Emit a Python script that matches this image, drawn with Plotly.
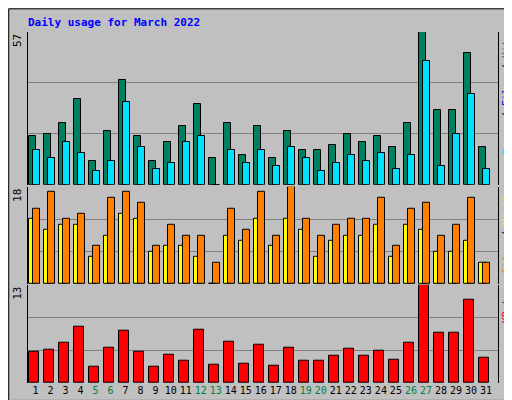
import plotly.graph_objects as go

days = list(range(1, 32))
weekend_days = [5, 6, 12, 13, 19, 20, 26, 27]

hits = [18, 19, 23, 32, 9, 20, 39, 18, 9, 16, 22, 30, 10, 23, 11, 22,
        10, 20, 13, 13, 15, 19, 16, 18, 14, 23, 57, 28, 28, 49, 14]
pages = [13, 10, 16, 12, 5, 9, 31, 14, 6, 8, 16, 18, 0, 13, 8, 13,
         7, 14, 10, 5, 8, 11, 9, 12, 6, 11, 46, 7, 19, 34, 6]
visits = [12, 10, 11, 11, 5, 9, 13, 12, 6, 7, 7, 5, 0, 9, 8, 12,
          7, 12, 10, 5, 8, 9, 9, 11, 5, 11, 10, 6, 6, 8, 4]
sites = [14, 17, 12, 13, 7, 16, 17, 15, 7, 11, 9, 9, 4, 14, 10, 17,
         9, 18, 12, 9, 11, 12, 12, 16, 7, 14, 15, 9, 11, 16, 4]
kbytes = [4.1, 4.4, 5.3, 7.4, 2.1, 4.7, 6.9, 4.1, 2.1, 3.7, 2.9, 7.0, 2.4, 5.4, 2.6, 5.1,
          2.3, 4.7, 3.0, 3.0, 3.6, 4.6, 3.6, 4.3, 3.1, 5.3, 13, 6.6, 6.6, 11.0, 3.3]

FONT = "DejaVu Sans Mono"
line = dict(color="black", width=1)

fig = go.Figure()
fig.add_trace(go.Bar(x=days, y=hits, marker=dict(color="#008060", line=line),
                     width=0.48, offset=-0.45, yaxis="y"))
fig.add_trace(go.Bar(x=days, y=pages, marker=dict(color="#00E0FF", line=line),
                     width=0.48, offset=-0.2, yaxis="y"))
fig.add_trace(go.Bar(x=days, y=visits, marker=dict(color="#FFFF00", line=line),
                     width=0.48, offset=-0.45, yaxis="y2"))
fig.add_trace(go.Bar(x=days, y=sites, marker=dict(color="#FF8000", line=line),
                     width=0.48, offset=-0.2, yaxis="y2"))
fig.add_trace(go.Bar(x=days, y=kbytes, marker=dict(color="#FF0000", line=line),
                     width=0.68, offset=-0.45, yaxis="y3"))

ticktext = [f'<span style="color:#008040">{d}</span>' if d in weekend_days else str(d)
            for d in days]

yax = dict(showticklabels=False, showgrid=True, gridcolor="#808080", gridwidth=1,
           zeroline=False, showline=True, linecolor="black", linewidth=1, mirror=True,
           ticks="")

fig.update_layout(
    width=512, height=400,
    margin=dict(l=20, r=22, t=24, b=22),
    paper_bgcolor="#C0C0C0", plot_bgcolor="#C0C0C0",
    showlegend=False, barmode="overlay", bargap=0,
    font=dict(family=FONT, size=10, color="black"),
    xaxis=dict(range=[0.5, 31.8], tickvals=days, ticktext=ticktext, showgrid=False,
               zeroline=False, ticks="", anchor="y3", tickfont=dict(size=10)),
    yaxis=dict(domain=[0.565, 1], range=[0, 57], dtick=19, **yax),
    yaxis2=dict(domain=[0.282, 0.559], range=[0, 18], dtick=6, **yax),
    yaxis3=dict(domain=[0, 0.28], range=[0, 13], dtick=13 / 3, **yax),
)

fig.add_annotation(text="<b>Daily usage for March 2022</b>", xref="paper", yref="paper",
                   x=-0.004, y=1.027, xanchor="left", yanchor="middle", showarrow=False,
                   font=dict(color="#0000FF", size=11, family=FONT))

for label, ytop in [("57", 1.0), ("18", 0.559), ("13", 0.28)]:
    fig.add_annotation(text=label, xref="paper", yref="paper", x=-0.004, y=ytop,
                       xanchor="right", yanchor="top", textangle=-90, showarrow=False,
                       font=dict(size=11))

right_labels = [
    ('<span style="color:#00E0FF">Pages</span> / <span style="color:#0000FF">Files</span>'
     ' / <span style="color:#008060">Hits</span>', 1.0),
    ('<span style="color:#FF8000">Sites</span> / <span style="color:#FFFF00">Visits</span>', 0.559),
    ('<span style="color:#FF0000">KBytes</span>', 0.28),
]
for label, ytop in right_labels:
    fig.add_annotation(text=label, xref="paper", yref="paper", x=1.002, y=ytop,
                       xanchor="left", yanchor="top", textangle=-90, showarrow=False,
                       font=dict(size=10))

# frame around the whole picture
fig.add_shape(type="rect", xref="paper", yref="paper", x0=-0.041, x1=1.045, y0=-0.06, y1=1.066,
              line=dict(color="black", width=1))
fig.add_shape(type="line", xref="paper", yref="paper", x0=-0.035, x1=1.04, y0=-0.052, y1=-0.052,
              line=dict(color="#808080", width=3))
fig.add_shape(type="line", xref="paper", yref="paper", x0=1.04, x1=1.04, y0=-0.052, y1=1.06,
              line=dict(color="#808080", width=3))

fig.write_html("out.html")
